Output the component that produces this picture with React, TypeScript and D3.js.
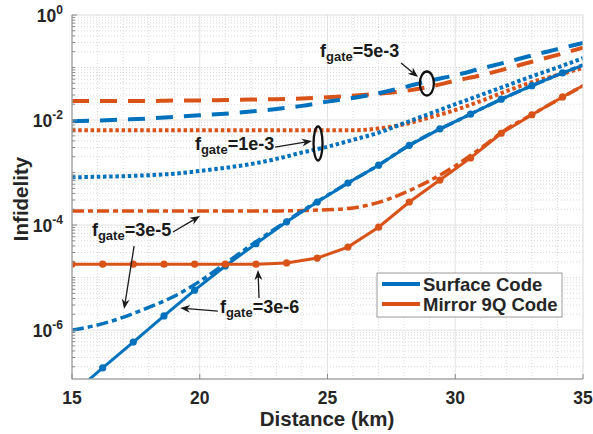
import React from "react";
import * as d3 from "d3";

// ---------- data ----------
const distMarker = [15, 16.2, 17.4, 18.6, 19.8, 21, 22.2, 23.4, 24.6, 25.8, 27, 28.2, 29.4, 30.6, 31.8, 33, 34.2, 35.4];
const surface3e6 = [6.0e-8, 1.9e-7, 5.9e-7, 1.86e-6, 5.75e-6, 1.66e-5, 4.4e-5, 1.15e-4, 2.75e-4, 6.3e-4, 1.38e-3, 3.3e-3, 6.8e-3, 1.29e-2, 2.5e-2, 4.5e-2, 7.9e-2, 0.13];
const mirror3e6 = [1.8e-5, 1.8e-5, 1.8e-5, 1.8e-5, 1.8e-5, 1.8e-5, 1.8e-5, 1.9e-5, 2.35e-5, 3.8e-5, 9.1e-5, 2.75e-4, 7.2e-4, 1.9e-3, 5.6e-3, 1.26e-2, 2.75e-2, 5.8e-2];

const distSmooth = [15, 16, 17, 18, 19, 20, 21, 22, 23, 24, 25, 26, 27, 28, 29, 30, 31, 32, 33, 34, 35];
const surface3e5 = [1.0e-6, 1.25e-6, 1.75e-6, 2.7e-6, 4.4e-6, 8.5e-6, 1.85e-5, 4.1e-5, 8.8e-5, 1.85e-4, 3.7e-4, 7.2e-4, 1.38e-3, 2.9e-3, 5.4e-3, 9.3e-3, 1.62e-2, 2.75e-2, 4.5e-2, 7.2e-2, 0.112];
const mirror3e5 = [1.86e-4, 1.86e-4, 1.86e-4, 1.86e-4, 1.86e-4, 1.86e-4, 1.86e-4, 1.86e-4, 1.86e-4, 1.89e-4, 1.96e-4, 2.12e-4, 2.7e-4, 4.1e-4, 7.0e-4, 1.34e-3, 2.9e-3, 6.7e-3, 1.27e-2, 2.4e-2, 4.5e-2];
const surface1e3 = [8.1e-4, 8.3e-4, 8.5e-4, 8.9e-4, 9.5e-4, 1.07e-3, 1.23e-3, 1.45e-3, 1.82e-3, 2.4e-3, 3.1e-3, 4.2e-3, 5.75e-3, 8.7e-3, 1.32e-2, 2.0e-2, 3.0e-2, 4.5e-2, 6.8e-2, 0.1, 0.151];
const mirror1e3 = [6.4e-3, 6.4e-3, 6.4e-3, 6.4e-3, 6.4e-3, 6.4e-3, 6.4e-3, 6.4e-3, 6.4e-3, 6.4e-3, 6.4e-3, 6.4e-3, 6.9e-3, 8.3e-3, 1.12e-2, 1.55e-2, 2.3e-2, 3.55e-2, 5.25e-2, 7.2e-2, 9.8e-2];
const surface5e3 = [9.5e-3, 9.8e-3, 1.02e-2, 1.07e-2, 1.15e-2, 1.23e-2, 1.32e-2, 1.45e-2, 1.62e-2, 1.86e-2, 2.24e-2, 2.63e-2, 3.24e-2, 4.2e-2, 5.6e-2, 7.1e-2, 9.5e-2, 0.126, 0.17, 0.224, 0.295];
const mirror5e3 = [2.3e-2, 2.3e-2, 2.3e-2, 2.3e-2, 2.35e-2, 2.35e-2, 2.4e-2, 2.45e-2, 2.5e-2, 2.57e-2, 2.7e-2, 2.9e-2, 3.16e-2, 3.55e-2, 4.3e-2, 5.6e-2, 7.1e-2, 9.5e-2, 0.129, 0.174, 0.24];

const xTicks = [15, 20, 25, 30, 35];
const yTickExps = [0, -2, -4, -6];
const legendLabels = ["Surface Code", "Mirror 9Q Code"];

// annotation anchors in data units (km, infidelity)
const annotTexts = [
  { label: "=5e-3", x: 24.71, y: 0.158 },
  { label: "=1e-3", x: 19.81, y: 2.68e-3 },
  { label: "=3e-5", x: 15.78, y: 6.17e-5 },
  { label: "=3e-6", x: 20.79, y: 2.11e-6 },
];
const annotArrows = [
  { x1: 27.88, y1: 0.122, x2: 28.54, y2: 0.0659 },
  { x1: 22.95, y1: 3.06e-3, x2: 24.39, y2: 3.98e-3 },
  { x1: 18.95, y1: 7.36e-5, x2: 20.01, y2: 1.48e-4 },
  { x1: 17.43, y1: 3.98e-5, x2: 17.04, y2: 2.51e-6 },
  { x1: 20.71, y1: 2.3e-6, x2: 19.23, y2: 2.62e-6 },
  { x1: 22.32, y1: 4.07e-6, x2: 22.28, y2: 1.39e-5 },
];
const annotEllipses = [
  { x: 28.89, y: 0.0496, rx: 7, ry: 12 },
  { x: 24.63, y: 3.57e-3, rx: 4.5, ry: 17 },
];

// ---------- styling ----------
const BLUE = "#0072BD";
const ORANGE = "#D95319";
const FONT = "'Liberation Sans', Arial, Helvetica, sans-serif";
const L = 72, R = 583, T = 15, B = 379;

function arrowPath(x1: number, y1: number, x2: number, y2: number) {
  const Lh = 10, w = 4;
  const dx = x2 - x1, dy = y2 - y1, len = Math.hypot(dx, dy);
  const ux = dx / len, uy = dy / len, px = -uy, py = ux;
  const bx = x2 - ux * Lh, by = y2 - uy * Lh;
  const nx = x2 - ux * Lh * 0.7, ny = y2 - uy * Lh * 0.7;
  return {
    head: `M${x2},${y2}L${bx + px * w},${by + py * w}L${nx},${ny}L${bx - px * w},${by - py * w}Z`,
    shaft: `M${x1},${y1}L${nx},${ny}`,
  };
}

export default function App() {
  const x = d3.scaleLinear().domain([15, 35]).range([L, R]);
  const y = d3.scaleLog().domain([1.17e-7, 1]).range([B, T]);

  const lineM = d3.line<number>().x((_, i) => x(distMarker[i])).y((d) => y(d));
  const lineS = d3
    .line<number>()
    .x((_, i) => x(distSmooth[i]))
    .y((d) => y(d))
    .curve(d3.curveMonotoneX);

  const minorX: number[] = [];
  for (let k = 16; k < 35; k++) if (!xTicks.includes(k)) minorX.push(k);
  const minorY: number[] = [];
  for (let e = -7; e <= 0; e++) {
    for (let m = 1; m <= 9; m++) {
      const v = m * Math.pow(10, e);
      if (v < 1.17e-7 || v > 1) continue;
      if (m === 1 && yTickExps.includes(e)) continue;
      minorY.push(v);
    }
  }

  const series = [
    { d: mirror5e3, color: ORANGE, dash: "17,11", w: 4 },
    { d: surface5e3, color: BLUE, dash: "17,11", w: 4 },
    { d: mirror1e3, color: ORANGE, dash: "3.5,2.7", w: 4 },
    { d: surface1e3, color: BLUE, dash: "3.5,2.7", w: 4 },
    { d: mirror3e5, color: ORANGE, dash: "12,4,5,4", w: 3.5 },
    { d: surface3e5, color: BLUE, dash: "12,4,5,4", w: 3.5 },
  ];

  return (
    <div style={{ position: "fixed", left: 0, top: 0 }}>
      <svg width={593} height={434} style={{ display: "block", background: "#fff" }} fontFamily={FONT}>
        <defs>
          <clipPath id="plotclip">
            <rect x={L} y={T} width={R - L} height={B - T} />
          </clipPath>
        </defs>
        <rect x={L} y={T} width={R - L} height={B - T} fill="#fff" />
        <g stroke="#cfcfcf" strokeWidth={0.8} strokeDasharray="1,2">
          {minorX.map((v) => (
            <line key={"mx" + v} x1={x(v)} x2={x(v)} y1={T} y2={B} />
          ))}
          {minorY.map((v, i) => (
            <line key={"my" + i} x1={L} x2={R} y1={y(v)} y2={y(v)} />
          ))}
        </g>
        <g stroke="#e2e2e2" strokeWidth={1}>
          {xTicks.slice(1, -1).map((v) => (
            <line key={"gx" + v} x1={x(v)} x2={x(v)} y1={T} y2={B} />
          ))}
          {yTickExps.slice(1).map((e) => (
            <line key={"gy" + e} x1={L} x2={R} y1={y(Math.pow(10, e))} y2={y(Math.pow(10, e))} />
          ))}
        </g>

        <g clipPath="url(#plotclip)" fill="none">
          {series.map((s, i) => (
            <path key={i} d={lineS(s.d) || ""} stroke={s.color} strokeWidth={s.w} strokeDasharray={s.dash} />
          ))}
          <path d={lineM(surface3e6) || ""} stroke={BLUE} strokeWidth={3} />
          {surface3e6.map((v, i) => (
            <circle key={"sm" + i} cx={x(distMarker[i])} cy={y(v)} r={3.6} fill={BLUE} />
          ))}
          <path d={lineM(mirror3e6) || ""} stroke={ORANGE} strokeWidth={3} />
          {mirror3e6.map((v, i) => (
            <circle key={"mm" + i} cx={x(distMarker[i])} cy={y(v)} r={3.6} fill={ORANGE} />
          ))}
        </g>

        <rect x={L} y={T} width={R - L} height={B - T} fill="none" stroke="#dcdcdc" strokeWidth={1} />
        <line x1={L} x2={L} y1={T} y2={B} stroke="#8a8a8a" strokeWidth={1} />
        <line x1={L} x2={R} y1={B} y2={B} stroke="#8a8a8a" strokeWidth={1} />
        <g stroke="#8a8a8a" strokeWidth={1}>
          {xTicks.map((v) => (
            <line key={"tx" + v} x1={x(v)} x2={x(v)} y1={B} y2={B - 5} />
          ))}
          {yTickExps.map((e) => (
            <line key={"ty" + e} x1={L} x2={L + 5} y1={y(Math.pow(10, e))} y2={y(Math.pow(10, e))} />
          ))}
          {minorY.map((v, i) => (
            <line key={"tmy" + i} x1={L} x2={L + 3} y1={y(v)} y2={y(v)} />
          ))}
        </g>
        <g fill="#262626" fontWeight="bold" fontSize={17.5}>
          {xTicks.map((v) => (
            <text key={"lx" + v} x={x(v)} y={404} textAnchor="middle">
              {v}
            </text>
          ))}
          {yTickExps.map((e) => (
            <text key={"ly" + e} x={63} y={y(Math.pow(10, e)) + 6.5} textAnchor="end">
              10
              <tspan fontSize={12} dy={-7.5}>
                {e}
              </tspan>
            </text>
          ))}
        </g>
        <text x={327} y={426} textAnchor="middle" fontWeight="bold" fontSize={20.5} fill="#262626">
          Distance (km)
        </text>
        <text
          transform={`translate(28,199) rotate(-90)`}
          textAnchor="middle"
          fontWeight="bold"
          fontSize={20.5}
          fill="#262626"
        >
          Infidelity
        </text>

        <g fill="#1a1a1a" fontWeight="bold">
          {annotTexts.map((a, i) => (
            <text key={"at" + i} x={x(a.x)} y={y(a.y)} fontSize={18}>
              f
              <tspan fontSize={13} dy={4}>
                gate
              </tspan>
              <tspan dy={-4}>{a.label}</tspan>
            </text>
          ))}
        </g>
        {annotArrows.map((a, i) => {
          const p = arrowPath(x(a.x1), y(a.y1), x(a.x2), y(a.y2));
          return (
            <g key={"ar" + i}>
              <path d={p.shaft} stroke="#1a1a1a" strokeWidth={1.3} fill="none" />
              <path d={p.head} fill="#1a1a1a" />
            </g>
          );
        })}
        {annotEllipses.map((e, i) => (
          <ellipse key={"el" + i} cx={x(e.x)} cy={y(e.y)} rx={e.rx} ry={e.ry} fill="none" stroke="#111" strokeWidth={2.3} />
        ))}

        <g>
          <rect x={377} y={273} width={185} height={44} fill="#fff" stroke="#9a9a9a" strokeWidth={1} />
          {legendLabels.map((lab, i) => (
            <g key={lab}>
              <line x1={382} x2={420} y1={284 + i * 20} y2={284 + i * 20} stroke={i === 0 ? BLUE : ORANGE} strokeWidth={4} />
              <text x={423} y={290.5 + i * 20} fontSize={18.5} fontWeight="bold" fill="#262626">
                {lab}
              </text>
            </g>
          ))}
        </g>
      </svg>
    </div>
  );
}
